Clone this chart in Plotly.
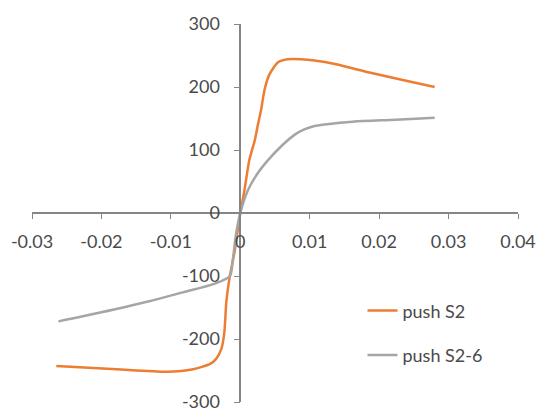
import plotly.graph_objects as go

# push S2 (orange)
s2_x = [-0.0265, -0.0178, -0.0106, -0.0068, -0.0044, -0.0035, -0.0027, -0.0023, -0.0020, -0.0015,
        -0.0008, 0.0, 0.0006, 0.0013, 0.0021, 0.0025, 0.0030, 0.0035, 0.0042, 0.0054,
        0.0068, 0.0088, 0.0107, 0.0138, 0.0186, 0.0234, 0.0280]
s2_y = [-243, -248, -252, -248, -240, -232, -215, -190, -140, -100,
        -60, 0, 36, 84, 116, 138, 164, 196, 220, 239,
        244, 244, 242, 236, 223, 211, 200]

# push S2-6 (gray)
s26_x = [-0.0262, -0.0202, -0.0131, -0.0083, -0.0039, -0.0015, -0.0011, -0.0006, 0.0, 0.0011,
         0.0025, 0.0040, 0.0059, 0.0078, 0.0093, 0.0107, 0.0125, 0.0162, 0.0224, 0.0280]
s26_y = [-172, -158, -140, -126, -113, -100, -76, -33, 0, 36,
         63, 84, 106, 124, 133, 138, 141, 145, 148, 151]

x_ticks = [-0.03, -0.02, -0.01, 0, 0.01, 0.02, 0.03, 0.04]
x_ticktext = ["-0.03", "-0.02", "-0.01", "0", "0.01", "0.02", "0.03", "0.04"]
y_ticks = [-300, -200, -100, 0, 100, 200, 300]
y_ticktext = ["-300", "-200", "-100", "0", "100", "200", "300"]

fig = go.Figure()
fig.add_trace(go.Scatter(x=s2_x, y=s2_y, mode="lines", name="push S2", legendgroup="a",
                         line=dict(color="#ED7D31", width=2.5, shape="spline", smoothing=0.6)))
fig.add_trace(go.Scatter(x=s26_x, y=s26_y, mode="lines", name="push S2-6", legendgroup="b",
                         line=dict(color="#A5A5A5", width=2.5, shape="spline", smoothing=0.8)))

font = dict(family="Lato, Open Sans, sans-serif", size=18, color="#4a4a4a")
fig.update_layout(
    width=539, height=411,
    margin=dict(l=32, r=21, t=24, b=9),
    paper_bgcolor="white", plot_bgcolor="white",
    font=font,
    showlegend=True,
    legend=dict(x=0.68, y=0.29, xanchor="left", yanchor="top", traceorder="grouped",
                tracegroupgap=18, font=font, bgcolor="rgba(0,0,0,0)"),
    xaxis=dict(range=[-0.03, 0.04], tickvals=x_ticks, ticktext=x_ticktext,
               showgrid=False, zeroline=False, showline=True, linecolor="#868686", linewidth=1.5,
               ticks="outside", ticklen=5, tickcolor="#868686", anchor="free", position=0.5,
               automargin=False, ticklabelstandoff=8, ticklabeloverflow="allow"),
    yaxis=dict(range=[-300, 300], tickvals=y_ticks, ticktext=y_ticktext,
               showgrid=False, zeroline=False, showline=True, linecolor="#868686", linewidth=1.5,
               ticks="outside", ticklen=6, tickcolor="#868686", anchor="free", position=3/7,
               automargin=False, ticklabelstandoff=10, ticklabeloverflow="allow"),
)

fig.write_html("out.html",
               config={"displayModeBar": False},
               post_script="document.body.style.margin='0';document.body.style.overflow='hidden';")
